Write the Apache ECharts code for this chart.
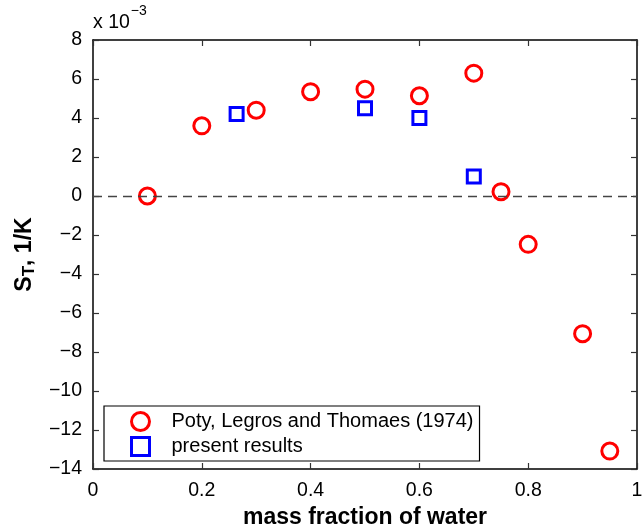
<!DOCTYPE html>
<html>
<head>
<meta charset="utf-8">
<script src="https://cdn.jsdelivr.net/npm/echarts@6/dist/echarts.min.js"></script>
<style>
  html, body { margin: 0; padding: 0; background: #fff; }
  #chart { width: 642px; height: 528px; }
</style>
</head>
<body>
<div id="chart"></div>
<script>
// Soret coefficient S_T (in units of 1e-3 1/K) vs. mass fraction of water
const potyX = [0.1, 0.2, 0.3, 0.4, 0.5, 0.6, 0.7, 0.75, 0.8, 0.9, 0.95];
const potyY = [0.0, 3.6, 4.4, 5.35, 5.48, 5.14, 6.3, 0.22, -2.48, -7.06, -13.08];
const presentX = [0.264, 0.5, 0.6, 0.7];
const presentY = [4.2, 4.5, 4.0, 1.0];
const xTicks = [0, 0.2, 0.4, 0.6, 0.8, 1];
const yTicks = [-14, -12, -10, -8, -6, -4, -2, 0, 2, 4, 6, 8];

const FONT = '"Liberation Sans", Arial, Helvetica, sans-serif';
const minus = v => (v < 0 ? '\u2212' + Math.abs(v) : String(v));

const chart = echarts.init(document.getElementById('chart'), null, { renderer: 'canvas' });

const axisLine = { show: true, onZero: false, lineStyle: { color: '#000', width: 1.5 } };
const tick = { show: true, inside: true, length: 6, lineStyle: { color: '#333', width: 1.2 } };

chart.setOption({
  animation: false,
  backgroundColor: '#fff',
  grid: { left: 93, right: 5, top: 40, bottom: 59, containLabel: false, outerBoundsMode: 'none' },
  xAxis: [{
    type: 'value', min: xTicks[0], max: xTicks[xTicks.length - 1], interval: 0.2,
    axisLine, axisTick: tick, splitLine: { show: false },
    axisLabel: { color: '#000', fontFamily: FONT, fontSize: 19.5, margin: 12 },
    name: 'mass fraction of water', nameLocation: 'middle', nameGap: 35,
    nameTextStyle: { color: '#000', fontFamily: FONT, fontSize: 23, fontWeight: 'bold' }
  }, {
    type: 'value', position: 'top', min: xTicks[0], max: xTicks[xTicks.length - 1], interval: 0.2,
    axisLine, axisTick: tick, axisLabel: { show: false }, splitLine: { show: false }
  }],
  yAxis: [{
    type: 'value', min: yTicks[0], max: yTicks[yTicks.length - 1], interval: 2,
    axisLine, axisTick: tick, splitLine: { show: false },
    axisLabel: { color: '#000', fontFamily: FONT, fontSize: 19.5, margin: 11, formatter: minus },
    name: '{b|S}{s|T}{b|, 1/K}', nameLocation: 'middle', nameRotate: 90, nameGap: 55,
    nameTextStyle: {
      color: '#000', fontFamily: FONT, fontSize: 23, fontWeight: 'bold',
      rich: {
        b: { fontFamily: FONT, fontSize: 23, fontWeight: 'bold', color: '#000' },
        s: { fontFamily: FONT, fontSize: 17, fontWeight: 'bold', color: '#000', verticalAlign: 'bottom', padding: [10, 0, 0, 0] }
      }
    }
  }, {
    type: 'value', position: 'right', min: yTicks[0], max: yTicks[yTicks.length - 1], interval: 2,
    axisLine, axisTick: tick, axisLabel: { show: false }, splitLine: { show: false }
  }],
  legend: {
    orient: 'vertical', left: 104, top: 406,
    padding: [5, 6, 4, 26], itemGap: 4, itemWidth: 18, itemHeight: 18,
    backgroundColor: '#fff', borderColor: '#000', borderWidth: 1.2, borderRadius: 0,
    textStyle: { color: '#000', fontFamily: FONT, fontSize: 20, lineHeight: 20, padding: [0, 0, 0, 17] },
    data: [
      { name: 'Poty, Legros and Thomaes (1974)', icon: 'circle',
        itemStyle: { color: 'rgba(0,0,0,0)', borderColor: '#ff0000', borderWidth: 3 } },
      { name: 'present results', icon: 'rect',
        itemStyle: { color: 'rgba(0,0,0,0)', borderColor: '#0000ff', borderWidth: 3 } }
    ]
  },
  graphic: [{
    type: 'text', left: 93, top: 4,
    style: {
      text: '{a|x 10}{e|\u22123}',
      rich: {
        a: { fontFamily: FONT, fontSize: 19.5, fill: '#000', padding: [9, 0, 0, 0] },
        e: { fontFamily: FONT, fontSize: 14, fill: '#000', verticalAlign: 'top', padding: [0, 0, 12, 1] }
      }
    }
  }],
  series: [{
    name: 'zero', type: 'line', data: [], silent: true,
    markLine: {
      silent: true, symbol: 'none', label: { show: false },
      lineStyle: { type: [9, 6], color: '#444', width: 1.4 },
      data: [{ yAxis: 0 }]
    }
  }, {
    name: 'Poty, Legros and Thomaes (1974)', type: 'scatter',
    symbol: 'circle', symbolSize: 16,
    itemStyle: { color: 'rgba(0,0,0,0)', borderColor: '#ff0000', borderWidth: 3, opacity: 1 },
    data: potyX.map((x, i) => [x, potyY[i]]), z: 3
  }, {
    name: 'present results', type: 'scatter',
    symbol: 'rect', symbolSize: 13,
    itemStyle: { color: 'rgba(0,0,0,0)', borderColor: '#0000ff', borderWidth: 3, opacity: 1 },
    data: presentX.map((x, i) => [x, presentY[i]]), z: 3
  }]
});
</script>
</body>
</html>
